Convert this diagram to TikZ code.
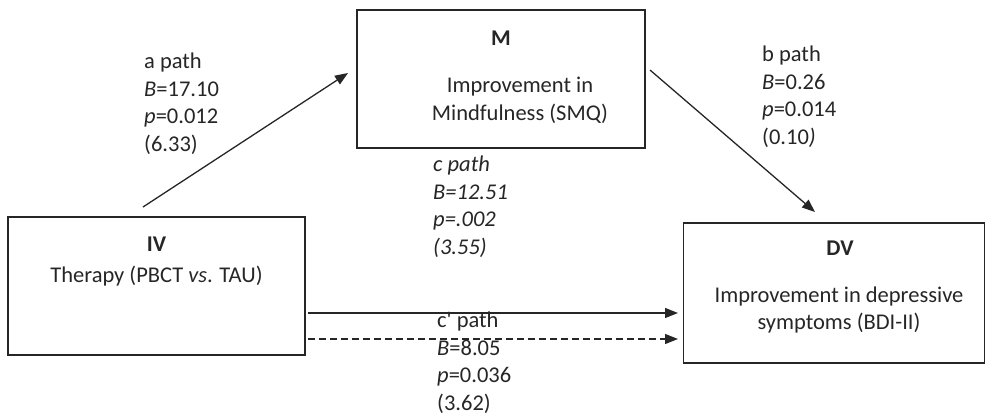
\documentclass[tikz,border=0pt]{standalone}
\usepackage{fontspec}
\setmainfont{Carlito}
\usepackage{tikz}
\usetikzlibrary{positioning,arrows.meta}
\newcommand\fsz{\fontsize{22.5}{27.4}\selectfont}

\begin{document}
\begin{tikzpicture}[x=1pt,y=-1pt,>={Triangle[length=13pt,width=10pt]},
  font=\fsz,color=black!85,
  bx/.style={draw,line width=1.5pt,inner sep=0pt},
  hd/.style={anchor=north,inner sep=0pt,font=\fsz\bfseries},
  tx/.style={anchor=north,align=center,inner sep=0pt},
  lb/.style={anchor=north west,align=left,inner sep=0pt},
  ar/.style={->,line width=1.3pt}]
\useasboundingbox (0,0) rectangle (986,418);
% boxes
\node[bx,minimum width=297pt,minimum height=138pt] (iv) at (156.5,286) {};
\node[bx,minimum width=288pt,minimum height=138pt] (m) at (501,79) {};
\node[bx,minimum width=301pt,minimum height=140pt] (dv) at (834,293) {};
% box texts
\node[hd] (ivH) at ([yshift=-20pt]iv.north) {IV};
\node[tx] (ivT) at ([yshift=-50pt]iv.north) {Therapy (PBCT \textit{vs}. TAU)};
\node[hd] (mH) at ([yshift=-21pt]m.north) {M};
\node[tx] (mT) at ([xshift=19pt,yshift=-68pt]m.north) {Improvement in\\Mindfulness (SMQ)};
\node[hd] (dvH) at ([xshift=6pt,yshift=-18pt]dv.north) {DV};
\node[tx] (dvT) at ([xshift=5pt,yshift=-64pt]dv.north) {Improvement in depressive\\symptoms (BDI-II)};
% path labels
\node[lb] (aL) at (144,53) {a path\\\textit{B}=17.10\\\textit{p}=0.012\\(6.33)};
\node[lb] (bL) at (762,46) {b path\\\textit{B}=0.26\\\textit{p}=0.014\\(0.10\textit{)}};
\node[lb,font=\fsz\itshape] (cL) at (433,156) {c path\\B=12.51\\p=.002\\(3.55)};
\node[lb] (cpL) at (437,312) {c\textquotesingle{} path\\\textit{B}=8.05\\\textit{p}=0.036\\(3.62)};
% arrows
\coordinate (aS) at (143,207); \coordinate (aE) at (348,73);
\coordinate (bS) at (650,70);  \coordinate (bE) at (815,212);
\coordinate (cS) at (308,313); \coordinate (cE) at (678,313);
\coordinate (dS) at (308,339); \coordinate (dE) at (678,339);
\draw[ar] (aS) -- (aE);
\draw[ar] (bS) -- (bE);
\draw[ar] (cS) -- (cE);
\draw[ar,dash pattern=on 7pt off 4pt] (dS) -- (dE);
\end{tikzpicture}
\end{document}
